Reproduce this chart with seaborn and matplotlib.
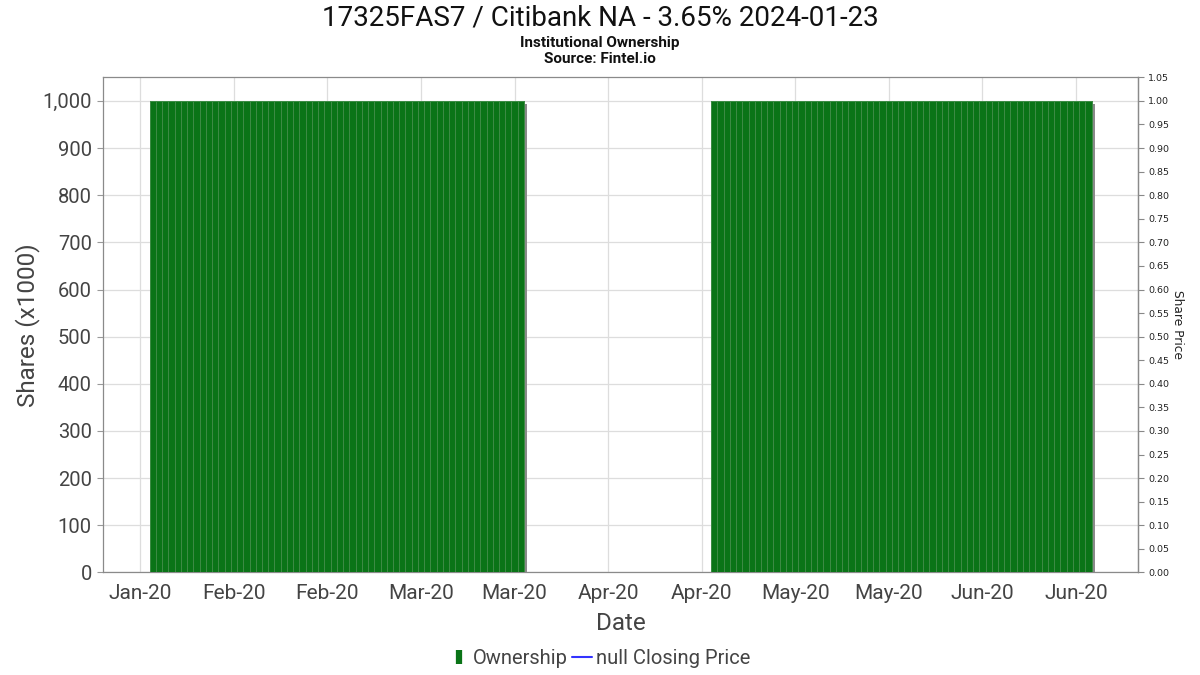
import matplotlib
matplotlib.use("Agg")
import matplotlib.pyplot as plt
import matplotlib.dates as mdates
import matplotlib.transforms as mtransforms
from matplotlib.lines import Line2D
from matplotlib.ticker import FuncFormatter, MultipleLocator
import seaborn as sns
import pandas as pd

# ---- data ----
# holding periods (daily bars, value in thousands of shares)
period_starts = ["2020-02-01", "2020-05-01"]
period_ends = ["2020-03-31", "2020-06-30"]
period_shares = [1000, 1000]

tick_dates = ["2020-01-30", "2020-02-14", "2020-02-29", "2020-03-15", "2020-03-30",
              "2020-04-14", "2020-04-29", "2020-05-14", "2020-05-29", "2020-06-13",
              "2020-06-28"]
x_range = ["2020-01-24", "2020-07-08"]

rows = []
for s, e, v in zip(period_starts, period_ends, period_shares):
    for d in pd.date_range(s, e, freq="D"):
        rows.append((d, v))
df = pd.DataFrame(rows, columns=["date", "shares"])

# ---- style ----
sns.set_theme(style="white")
plt.rcParams["font.family"] = ["Roboto", "DejaVu Sans"]

GREEN = "#0a7417"
fig = plt.figure(figsize=(12, 6.75), dpi=100)
ax = fig.add_axes([0.0858, 0.1519, 0.8628, 0.7336])

shadow_tr = mtransforms.offset_copy(ax.transData, fig=fig, x=3, y=-3, units="dots")
ax.bar(df["date"], df["shares"], width=1.0, color="#8a8a8a", linewidth=0,
       transform=shadow_tr, zorder=2, antialiased=False)
ax.bar(df["date"], df["shares"], width=1.0, color=GREEN, edgecolor="#3c8a44",
       linewidth=0.4, zorder=3, antialiased=False)

ax.set_xlim(pd.Timestamp(x_range[0]), pd.Timestamp(x_range[1]))
ax.set_ylim(0, 1050)
ax.set_xticks(pd.to_datetime(tick_dates))
ax.xaxis.set_major_formatter(mdates.DateFormatter("%b-%y"))
ax.yaxis.set_major_locator(MultipleLocator(100))
ax.yaxis.set_major_formatter(FuncFormatter(lambda v, p: f"{int(v):,}"))

ax.grid(True, color="#dddddd", linewidth=0.9, zorder=0)
ax.set_axisbelow(True)
for sp in ax.spines.values():
    sp.set_color("#8a8a8a")
    sp.set_linewidth(0.9)

ax.tick_params(axis="both", which="major", colors="#999999", labelcolor="#444444",
               length=4, width=0.8, direction="out")
ax.tick_params(axis="x", labelsize=15, pad=4.5)
ax.tick_params(axis="y", labelsize=14.5, pad=4)
ax.set_xlabel("Date", fontsize=17.5, color="#444444", labelpad=6)
ax.set_ylabel("Shares (x1000)", fontsize=17.5, color="#444444", labelpad=2)

ax2 = ax.twinx()
ax2.set_ylim(0, 1.05)
ax2.yaxis.set_major_locator(MultipleLocator(0.05))
ax2.yaxis.set_major_formatter(FuncFormatter(lambda v, p: f"{v:.2f}"))
ax2.tick_params(axis="y", labelsize=6.8, colors="#888888", labelcolor="#222222",
                length=4, width=0.8, pad=3)
for lab in ax2.get_yticklabels():
    lab.set_family("DejaVu Sans")
ax2.set_ylabel("Share Price", fontsize=8.8, color="#222222", rotation=270,
               labelpad=11, family="DejaVu Sans")
for name, sp in ax2.spines.items():
    sp.set_visible(name == "right")
    sp.set_color("#8a8a8a")
    sp.set_linewidth(0.9)
ax2.grid(False)

fig.text(0.5, 0.973, "17325FAS7 / Citibank NA - 3.65% 2024-01-23", ha="center",
         va="center", fontsize=20, color="#111111")
fig.text(0.5, 0.936, "Institutional Ownership", ha="center", va="center",
         fontsize=11, fontweight="bold", color="#111111")
fig.text(0.5, 0.912, "Source: Fintel.io", ha="center", va="center",
         fontsize=11, fontweight="bold", color="#111111")

handles = [Line2D([0], [0], marker="|", linestyle="none", markersize=10,
                  markeredgewidth=4.5, markeredgecolor=GREEN),
           Line2D([0], [0], color="#3333ff", linewidth=1.5)]
fig.legend(handles, ["Ownership", "null Closing Price"], loc="center",
           bbox_to_anchor=(0.5, 0.024), ncol=2, frameon=False, fontsize=14.5,
           handlelength=1.0, handletextpad=0.2, columnspacing=0.2,
           labelcolor="#444444")

fig.savefig("out.png", dpi=100)
